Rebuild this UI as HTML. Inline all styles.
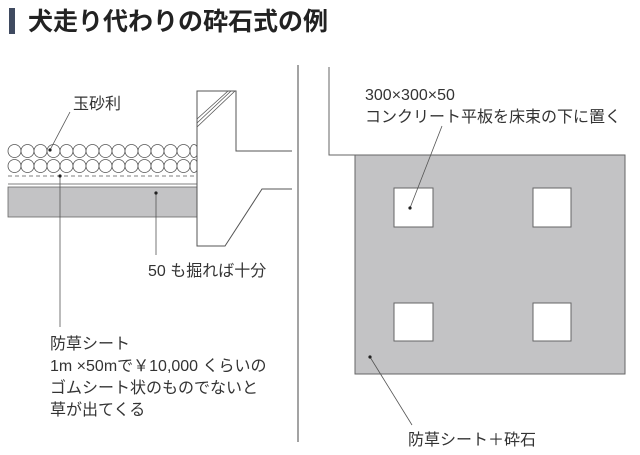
<!DOCTYPE html>
<html><head><meta charset="utf-8"><style>
html,body{margin:0;padding:0;background:#fff;width:640px;height:455px;overflow:hidden}
text{font-family:"Liberation Sans","Noto Sans CJK JP",sans-serif;fill:#333}
</style></head><body>
<svg width="640" height="455" viewBox="0 0 640 455" xmlns="http://www.w3.org/2000/svg">
<rect x="9" y="8" width="6" height="26" fill="#3f4a60"/>
<text x="28" y="30" font-size="25" font-weight="bold" style="fill:#222">犬走り代わりの砕石式の例</text>
<line x1="298" y1="65" x2="298" y2="442" stroke="#666" stroke-width="1.2"/>
<g fill="#fff" stroke="#555" stroke-width="0.8">
<g id="row">
<ellipse cx="14.5" cy="151" rx="6.5" ry="6.5"/><ellipse cx="27.5" cy="151" rx="6.5" ry="6.5"/><ellipse cx="40.5" cy="151" rx="6.5" ry="6.5"/><ellipse cx="53.5" cy="151" rx="6.5" ry="6.5"/><ellipse cx="66.5" cy="151" rx="6.5" ry="6.5"/><ellipse cx="79.5" cy="151" rx="6.5" ry="6.5"/><ellipse cx="92.5" cy="151" rx="6.5" ry="6.5"/><ellipse cx="105.5" cy="151" rx="6.5" ry="6.5"/><ellipse cx="118.5" cy="151" rx="6.5" ry="6.5"/><ellipse cx="131.5" cy="151" rx="6.5" ry="6.5"/><ellipse cx="144.5" cy="151" rx="6.5" ry="6.5"/><ellipse cx="157.5" cy="151" rx="6.5" ry="6.5"/><ellipse cx="170.5" cy="151" rx="6.5" ry="6.5"/><ellipse cx="183.5" cy="151" rx="6.5" ry="6.5"/><ellipse cx="194" cy="151" rx="4" ry="6.5"/>
</g>
<use href="#row" y="15"/>
</g>
<line x1="8" y1="176" x2="197" y2="176" stroke="#555" stroke-width="0.8" stroke-dasharray="4,3"/>
<line x1="8" y1="184" x2="197" y2="184" stroke="#555" stroke-width="0.8"/>
<rect x="8" y="187" width="189" height="30" fill="#c3c3c5" stroke="#666" stroke-width="0.8"/>
<polyline points="292,151 236,151 236,91 197,91 197,246 225,246 262,189 292,189" fill="#fff" stroke="#555" stroke-width="1"/>
<g stroke="#555" stroke-width="0.8">
<line x1="197" y1="119" x2="228" y2="91"/><line x1="197" y1="123" x2="231" y2="91"/><line x1="197" y1="127" x2="235" y2="91"/>
</g>
<g stroke="#555" stroke-width="0.8">
<line x1="70" y1="112" x2="50" y2="150"/>
<line x1="60" y1="176" x2="60" y2="327"/>
<line x1="156" y1="193" x2="156" y2="255"/>
</g>
<g fill="#222"><circle cx="50" cy="150" r="1.6"/><circle cx="60" cy="176" r="1.6"/><circle cx="156" cy="193" r="1.6"/></g>
<text x="73" y="109" font-size="16">玉砂利</text>
<text x="148" y="276" font-size="16">50 も掘れば十分</text>
<text x="50" y="349" font-size="16">防草シート</text>
<text x="50" y="371" font-size="16">1m ×50mで￥10,000 くらいの</text>
<text x="50" y="393" font-size="16">ゴムシート状のものでないと</text>
<text x="50" y="415" font-size="16">草が出てくる</text>
<polyline points="329,67 329,155 355,155" fill="none" stroke="#666" stroke-width="1"/>
<rect x="355" y="155" width="270" height="219" fill="#c3c3c5" stroke="#666" stroke-width="1"/>
<g fill="#fff" stroke="#666" stroke-width="1">
<rect x="394" y="188" width="39" height="39"/><rect x="533" y="188" width="38" height="39"/>
<rect x="394" y="303" width="39" height="38"/><rect x="533" y="303" width="38" height="38"/>
</g>
<line x1="442" y1="126" x2="410" y2="208" stroke="#555" stroke-width="0.8"/>
<line x1="370" y1="357" x2="412" y2="425" stroke="#555" stroke-width="0.8"/>
<g fill="#222"><circle cx="410" cy="208" r="1.6"/><circle cx="370" cy="357" r="1.6"/></g>
<text x="365" y="100" font-size="16">300×300×50</text>
<text x="365" y="122" font-size="16">コンクリート平板を床束の下に置く</text>
<text x="408" y="445" font-size="16">防草シート＋砕石</text>
</svg>
</body></html>
